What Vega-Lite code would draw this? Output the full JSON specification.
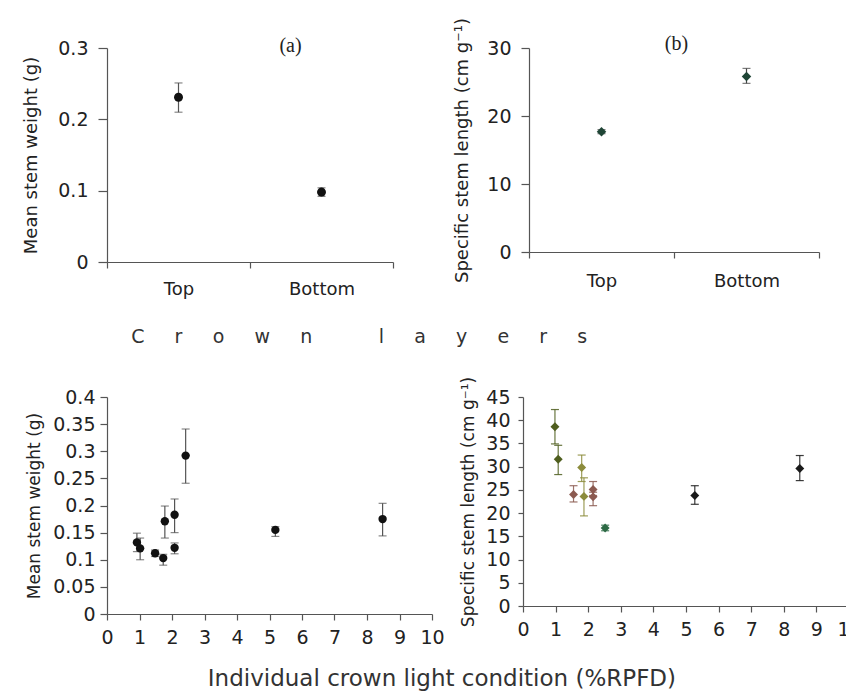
{
  "$schema": "https://vega.github.io/schema/vega-lite/v6.json",
  "background": "white",
  "padding": {"left": 22, "top": 17, "right": 0, "bottom": 0},
  "spacing": 29,
  "title": {"text": "Individual crown light condition (%RPFD)", "orient": "bottom", "font": "DejaVu Sans", "fontSize": 23, "fontWeight": "normal", "color": "#333", "dx": 0, "offset": 21, "frame": "bounds", "anchor": "middle"},
  "config": {
    "view": {"stroke": null},
    "font": "DejaVu Sans",
    "axis": {"grid": false, "domainColor": "#555", "tickColor": "#555", "labelColor": "#222", "titleColor": "#222", "labelFont": "DejaVu Sans", "titleFont": "DejaVu Sans", "titleFontWeight": "normal", "labelFontSize": 19, "titleFontSize": 18, "domainWidth": 1.2, "tickWidth": 1.2, "labelOverlap": false, "labelFlush": false},
    "text": {"font": "Liberation Serif", "fontSize": 20, "color": "#222", "baseline": "middle", "align": "center"}
  },
  "vconcat": [
    {
      "spacing": 59,
      "title": {"text": "C\u00a0\u00a0\u00a0\u00a0\u00a0r\u00a0\u00a0\u00a0\u00a0\u00a0o\u00a0\u00a0\u00a0\u00a0\u00a0w\u00a0\u00a0\u00a0\u00a0\u00a0n\u00a0\u00a0\u00a0\u00a0\u00a0\u00a0\u00a0\u00a0\u00a0\u00a0\u00a0l\u00a0\u00a0\u00a0\u00a0\u00a0a\u00a0\u00a0\u00a0\u00a0\u00a0y\u00a0\u00a0\u00a0\u00a0\u00a0e\u00a0\u00a0\u00a0\u00a0\u00a0r\u00a0\u00a0\u00a0\u00a0\u00a0s", "orient": "bottom", "font": "DejaVu Sans", "fontSize": 19, "fontWeight": "normal", "color": "#333", "dx": -62, "offset": 30, "frame": "bounds", "anchor": "middle"},
      "hconcat": [
        {
          "width": 286, "height": 214,
          "data": {"values": [
            {"layer": "Top", "mean": 0.231, "lo": 0.210, "hi": 0.251},
            {"layer": "Bottom", "mean": 0.098, "lo": 0.092, "hi": 0.104}
          ]},
          "encoding": {"x": {"field": "layer", "type": "nominal", "sort": ["Top", "Bottom"], "scale": {"paddingInner": 0, "paddingOuter": 0}, "axis": {"title": null, "labelAngle": 0, "tickBand": "extent", "labelFontSize": 18, "labelPadding": 12, "tickSize": 6}}},
          "layer": [
            {"mark": {"type": "rule", "color": "#555", "strokeWidth": 1.2}, "encoding": {"y": {"field": "lo", "type": "quantitative", "scale": {"domain": [0, 0.3], "nice": false}, "axis": {"title": "Mean stem weight (g)", "values": [0, 0.1, 0.2, 0.3], "format": "~g", "tickSize": 9, "labelPadding": 10, "titlePadding": 17}}, "y2": {"field": "hi"}}},
            {"mark": {"type": "tick", "orient": "horizontal", "color": "#555", "size": 8, "thickness": 1.2}, "encoding": {"y": {"field": "lo", "type": "quantitative", "axis": {"title": "Mean stem weight (g)", "values": [0, 0.1, 0.2, 0.3], "format": "~g", "tickSize": 9, "labelPadding": 10, "titlePadding": 17}}}},
            {"mark": {"type": "tick", "orient": "horizontal", "color": "#555", "size": 8, "thickness": 1.2}, "encoding": {"y": {"field": "hi", "type": "quantitative", "axis": {"title": "Mean stem weight (g)", "values": [0, 0.1, 0.2, 0.3], "format": "~g", "tickSize": 9, "labelPadding": 10, "titlePadding": 17}}}},
            {"mark": {"type": "point", "filled": true, "shape": "circle", "size": 80, "color": "#111", "opacity": 1}, "encoding": {"y": {"field": "mean", "type": "quantitative", "axis": {"title": "Mean stem weight (g)", "values": [0, 0.1, 0.2, 0.3], "format": "~g", "tickSize": 9, "labelPadding": 10, "titlePadding": 17}}}},
            {"data": {"values": [{"label": "(a)"}]}, "mark": {"type": "text", "dx": -31, "clip": false}, "encoding": {"text": {"field": "label"}, "x": {"datum": "Bottom"}, "y": {"datum": 0.303, "axis": {"title": "Mean stem weight (g)", "values": [0, 0.1, 0.2, 0.3], "format": "~g", "tickSize": 9, "labelPadding": 10, "titlePadding": 17}}}}
          ]
        },
        {
          "width": 290, "height": 204,
          "data": {"values": [
            {"layer": "Top", "mean": 17.7, "lo": 17.4, "hi": 18.0},
            {"layer": "Bottom", "mean": 25.8, "lo": 24.8, "hi": 27.0}
          ]},
          "encoding": {"x": {"field": "layer", "type": "nominal", "sort": ["Top", "Bottom"], "scale": {"paddingInner": 0, "paddingOuter": 0}, "axis": {"title": null, "labelAngle": 0, "tickBand": "extent", "labelFontSize": 18, "labelPadding": 14, "tickSize": 6}}},
          "layer": [
            {"mark": {"type": "rule", "color": "#444", "strokeWidth": 1.2}, "encoding": {"y": {"field": "lo", "type": "quantitative", "scale": {"domain": [0, 30], "nice": false}, "axis": {"title": "Specific stem length (cm g\u207b\u00b9)", "values": [0, 10, 20, 30], "tickSize": 8, "labelPadding": 10, "titlePadding": 15}}, "y2": {"field": "hi"}}},
            {"mark": {"type": "tick", "orient": "horizontal", "color": "#444", "size": 8, "thickness": 1.2}, "encoding": {"y": {"field": "lo", "type": "quantitative", "axis": {"title": "Specific stem length (cm g\u207b\u00b9)", "values": [0, 10, 20, 30], "tickSize": 8, "labelPadding": 10, "titlePadding": 15}}}},
            {"mark": {"type": "tick", "orient": "horizontal", "color": "#444", "size": 8, "thickness": 1.2}, "encoding": {"y": {"field": "hi", "type": "quantitative", "axis": {"title": "Specific stem length (cm g\u207b\u00b9)", "values": [0, 10, 20, 30], "tickSize": 8, "labelPadding": 10, "titlePadding": 15}}}},
            {"mark": {"type": "point", "filled": true, "shape": "diamond", "size": 90, "color": "#1f4536", "opacity": 1}, "encoding": {"y": {"field": "mean", "type": "quantitative", "axis": {"title": "Specific stem length (cm g\u207b\u00b9)", "values": [0, 10, 20, 30], "tickSize": 8, "labelPadding": 10, "titlePadding": 15}}}},
            {"data": {"values": [{"label": "(b)"}]}, "mark": {"type": "text", "dx": 75, "clip": false}, "encoding": {"text": {"field": "label"}, "x": {"datum": "Top"}, "y": {"datum": 30.6, "axis": {"title": "Specific stem length (cm g\u207b\u00b9)", "values": [0, 10, 20, 30], "tickSize": 8, "labelPadding": 10, "titlePadding": 15}}}}
          ]
        }
      ]
    },
    {
      "spacing": 14,
      "hconcat": [
        {
          "width": 325, "height": 217,
          "data": {"values": [
            {"rpfd": 0.92, "mean": 0.132, "lo": 0.115, "hi": 0.149},
            {"rpfd": 1.02, "mean": 0.121, "lo": 0.100, "hi": 0.140},
            {"rpfd": 1.48, "mean": 0.112, "lo": 0.106, "hi": 0.118},
            {"rpfd": 1.73, "mean": 0.103, "lo": 0.090, "hi": 0.110},
            {"rpfd": 1.78, "mean": 0.171, "lo": 0.140, "hi": 0.199},
            {"rpfd": 2.08, "mean": 0.183, "lo": 0.150, "hi": 0.212},
            {"rpfd": 2.08, "mean": 0.122, "lo": 0.111, "hi": 0.131},
            {"rpfd": 2.42, "mean": 0.292, "lo": 0.241, "hi": 0.341},
            {"rpfd": 5.18, "mean": 0.155, "lo": 0.143, "hi": 0.161},
            {"rpfd": 8.48, "mean": 0.175, "lo": 0.144, "hi": 0.204}
          ]},
          "encoding": {"x": {"field": "rpfd", "type": "quantitative", "scale": {"domain": [0, 10], "nice": false}, "axis": {"title": null, "values": [0, 1, 2, 3, 4, 5, 6, 7, 8, 9, 10], "labelFlush": false, "tickSize": 6, "labelPadding": 8}}},
          "layer": [
            {"mark": {"type": "rule", "color": "#555", "strokeWidth": 1.2}, "encoding": {"y": {"field": "lo", "type": "quantitative", "scale": {"domain": [0, 0.4], "nice": false}, "axis": {"title": "Mean stem weight (g)", "titleFontSize": 17, "values": [0, 0.05, 0.1, 0.15, 0.2, 0.25, 0.3, 0.35, 0.4], "format": "~g", "tickSize": 7, "labelPadding": 5, "titlePadding": 9}}, "y2": {"field": "hi"}}},
            {"mark": {"type": "tick", "orient": "horizontal", "color": "#555", "size": 8, "thickness": 1.2}, "encoding": {"y": {"field": "lo", "type": "quantitative", "axis": {"title": "Mean stem weight (g)", "titleFontSize": 17, "values": [0, 0.05, 0.1, 0.15, 0.2, 0.25, 0.3, 0.35, 0.4], "format": "~g", "tickSize": 7, "labelPadding": 5, "titlePadding": 9}}}},
            {"mark": {"type": "tick", "orient": "horizontal", "color": "#555", "size": 8, "thickness": 1.2}, "encoding": {"y": {"field": "hi", "type": "quantitative", "axis": {"title": "Mean stem weight (g)", "titleFontSize": 17, "values": [0, 0.05, 0.1, 0.15, 0.2, 0.25, 0.3, 0.35, 0.4], "format": "~g", "tickSize": 7, "labelPadding": 5, "titlePadding": 9}}}},
            {"mark": {"type": "point", "filled": true, "shape": "circle", "size": 70, "color": "#111", "opacity": 1}, "encoding": {"y": {"field": "mean", "type": "quantitative", "axis": {"title": "Mean stem weight (g)", "titleFontSize": 17, "values": [0, 0.05, 0.1, 0.15, 0.2, 0.25, 0.3, 0.35, 0.4], "format": "~g", "tickSize": 7, "labelPadding": 5, "titlePadding": 9}}}},
            {"data": {"values": [{"label": "(c)"}]}, "mark": {"type": "text", "clip": false}, "encoding": {"text": {"field": "label"}, "x": {"datum": 5.8}, "y": {"datum": 0.377, "axis": {"title": "Mean stem weight (g)", "titleFontSize": 17, "values": [0, 0.05, 0.1, 0.15, 0.2, 0.25, 0.3, 0.35, 0.4], "format": "~g", "tickSize": 7, "labelPadding": 5, "titlePadding": 9}}}}
          ]
        },
        {
          "width": 326, "height": 209,
          "data": {"values": [
            {"rpfd": 0.98, "ssl": 38.6, "lo": 34.9, "hi": 42.3, "grp": "g1"},
            {"rpfd": 1.08, "ssl": 31.6, "lo": 28.3, "hi": 34.6, "grp": "g1"},
            {"rpfd": 1.55, "ssl": 24.0, "lo": 22.4, "hi": 25.9, "grp": "g2"},
            {"rpfd": 1.80, "ssl": 29.8, "lo": 26.8, "hi": 32.5, "grp": "g3"},
            {"rpfd": 1.87, "ssl": 23.6, "lo": 19.4, "hi": 27.6, "grp": "g3"},
            {"rpfd": 2.15, "ssl": 25.1, "lo": 23.8, "hi": 26.8, "grp": "g2"},
            {"rpfd": 2.15, "ssl": 23.5, "lo": 21.6, "hi": 24.5, "grp": "g2"},
            {"rpfd": 2.52, "ssl": 16.8, "lo": 16.2, "hi": 17.4, "grp": "g4"},
            {"rpfd": 5.27, "ssl": 23.8, "lo": 21.9, "hi": 25.9, "grp": "g5"},
            {"rpfd": 8.49, "ssl": 29.6, "lo": 27.0, "hi": 32.4, "grp": "g5"}
          ]},
          "encoding": {
            "x": {"field": "rpfd", "type": "quantitative", "scale": {"domain": [0, 10], "nice": false}, "axis": {"title": null, "values": [0, 1, 2, 3, 4, 5, 6, 7, 8, 9, 10], "labelFlush": false, "tickSize": 6, "labelPadding": 8}}
          },
          "layer": [
            {"mark": {"type": "rule", "strokeWidth": 1.2, "opacity": 0.85}, "encoding": {"y": {"field": "lo", "type": "quantitative", "scale": {"domain": [0, 45], "nice": false}, "axis": {"title": "Specific stem length (cm g\u207b\u00b9)", "titleFontSize": 17, "values": [0, 5, 10, 15, 20, 25, 30, 35, 40, 45], "tickSize": 5, "labelPadding": 8, "titlePadding": 8}}, "y2": {"field": "hi"}, "color": {"field": "grp", "type": "nominal", "scale": {"domain": ["g1", "g2", "g3", "g4", "g5"], "range": ["#4f5e1e", "#8b5a50", "#8c8c3c", "#2d6a45", "#1a1a1a"]}, "legend": null}}},
            {"mark": {"type": "tick", "orient": "horizontal", "size": 8, "thickness": 1.2, "opacity": 0.85}, "encoding": {"y": {"field": "lo", "type": "quantitative", "axis": {"title": "Specific stem length (cm g\u207b\u00b9)", "titleFontSize": 17, "values": [0, 5, 10, 15, 20, 25, 30, 35, 40, 45], "tickSize": 5, "labelPadding": 8, "titlePadding": 8}}, "color": {"field": "grp", "type": "nominal", "legend": null}}},
            {"mark": {"type": "tick", "orient": "horizontal", "size": 8, "thickness": 1.2, "opacity": 0.85}, "encoding": {"y": {"field": "hi", "type": "quantitative", "axis": {"title": "Specific stem length (cm g\u207b\u00b9)", "titleFontSize": 17, "values": [0, 5, 10, 15, 20, 25, 30, 35, 40, 45], "tickSize": 5, "labelPadding": 8, "titlePadding": 8}}, "color": {"field": "grp", "type": "nominal", "legend": null}}},
            {"mark": {"type": "point", "filled": true, "shape": "diamond", "size": 80, "opacity": 1}, "encoding": {"y": {"field": "ssl", "type": "quantitative", "axis": {"title": "Specific stem length (cm g\u207b\u00b9)", "titleFontSize": 17, "values": [0, 5, 10, 15, 20, 25, 30, 35, 40, 45], "tickSize": 5, "labelPadding": 8, "titlePadding": 8}}, "color": {"field": "grp", "type": "nominal", "legend": null}}},
            {"data": {"values": [{"label": "(d)"}]}, "mark": {"type": "text", "clip": false, "color": "#222"}, "encoding": {"text": {"field": "label"}, "x": {"datum": 4.6}, "y": {"datum": 44.5, "axis": {"title": "Specific stem length (cm g\u207b\u00b9)", "titleFontSize": 17, "values": [0, 5, 10, 15, 20, 25, 30, 35, 40, 45], "tickSize": 5, "labelPadding": 8, "titlePadding": 8}}}}
          ]
        }
      ]
    }
  ]
}
